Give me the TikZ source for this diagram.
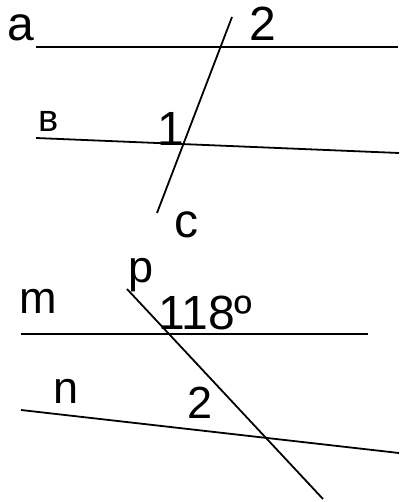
\documentclass[tikz,border=0pt]{standalone}
\usepackage{fontspec}
\setmainfont{Liberation Sans}
\usepackage{tikz}

\begin{document}
\begin{tikzpicture}[x=1pt, y=-1pt,
          line/.style={draw=black, line width=1.8pt},
          lbl/.style={inner sep=0pt, anchor=base west,
                      font=\fontsize{48}{48}\selectfont},
          lblmid/.style={lbl, font=\fontsize{45}{45}\selectfont},
          lblsmall/.style={lbl, font=\fontsize{38}{38}\selectfont}
        ]
        \useasboundingbox (0,0) rectangle (399,502);

        % Top figure: a, b cut by c
        \coordinate (a1) at (36, 47);
        \coordinate (a2) at (398, 47);
        \coordinate (b1) at (36, 138);
        \coordinate (b2) at (399, 153);
        \coordinate (c1) at (232, 17);
        \coordinate (c2) at (157, 213);
        \draw[line] (a1) -- (a2);
        \draw[line] (b1) -- (b2);
        \draw[line] (c1) -- (c2);

        % Bottom figure: m, n cut by p
        \coordinate (m1) at (21, 334);
        \coordinate (m2) at (368, 334);
        \coordinate (n1) at (21, 410);
        \coordinate (n2) at (399, 453);
        \coordinate (p1) at (127, 289);
        \coordinate (p2) at (323, 499);
        \draw[line] (m1) -- (m2);
        \draw[line] (n1) -- (n2);
        \draw[line] (p1) -- (p2);

        % Labels
        \node[lbl] (la) at (7, 41) {a};
        \node[lbl] (ltwo) at (249, 41) {2};
        \node[lblsmall] (lb) at (38, 132) {в};
        \node[lbl] (lone) at (157, 146) {1};
        \node[lbl] (lc) at (174, 237) {c};
        \node[lblmid] (lm) at (19, 313) {m};
        \node[lblmid] (lp) at (128, 282) {p};
        \node[lbl] (lang) at (158, 329) {118º};
        \node[lblmid] (ln) at (53, 403) {n};
        \node[lblmid] (ltwob) at (187, 418) {2};
      \end{tikzpicture}
\end{document}
